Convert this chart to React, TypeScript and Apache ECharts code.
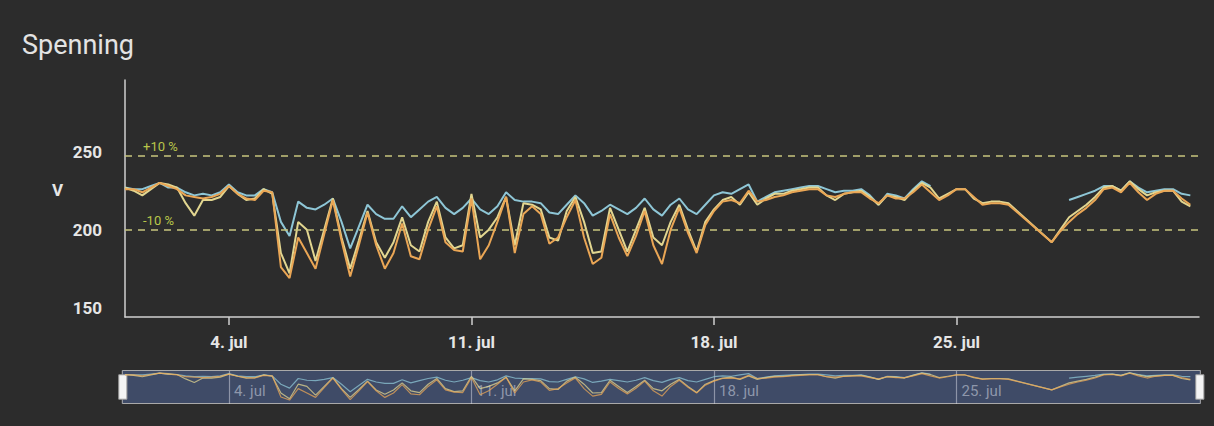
import React, { useEffect, useRef } from "react";
import * as echarts from "echarts";

// Time slots: one value every 6 hours, starting 1 Jul 00:00 (hours since then)
const STEP_HOURS = 6;
const X_MIN_HOURS = 0;
const X_MAX_HOURS = 744; // 1 Aug 00:00
const WEEK_TICKS = [72, 240, 408, 576]; // 4., 11., 18., 25. jul

const TITLE = "Spenning";
const Y_NAME = "V";
const Y_LABELS = [150, 200, 250];
const LIMIT_UPPER = 247.5;
const LIMIT_LOWER = 200;
const LIMIT_UPPER_LABEL = "+10 %";
const LIMIT_LOWER_LABEL = "-10 %";

const N = null;

const L1 = [
  227, 226, 226, 228, 230, 227, 227, 224, 222, 223, 222, 224,
  229, 224, 222, 222, 226, 224, 205, 196, 218, 214, 213, 216,
  220, 205, 188, 202, 216, 210, 207, 207, 215, 208, 213, 218,
  221, 214, 210, 214, 220, 213, 210, 215, 224, 219, 218, 218,
  217, 211, 210, 216, 222, 217, 209, 212, 216, 213, 210, 214,
  220, 213, 209, 216, 220, 213, 210, 216, 222, 224, 223, 226,
  229, 218, 221, 224, 225, 226, 227, 228, 228, 226, 224, 225,
  225, 226, 222, 216, 223, 222, 220, 226, 231, 228, N, N,
  N, N, N, N, N, N, N, N, N, N, N, N,
  N, 219, 221, 223, 225, 228, 228, 225, 231, 227, 224, 225,
  226, 226, 223, 222,
];

const L2 = [
  227, 225, 222, 226, 230, 229, 227, 217, 209, 219, 219, 221,
  228, 223, 219, 220, 226, 223, 185, 172, 205, 200, 180, 200,
  220, 195, 175, 193, 212, 192, 182, 192, 208, 190, 186, 205,
  218, 195, 188, 190, 223, 195, 200, 208, 221, 190, 217, 216,
  213, 195, 193, 212, 221, 205, 185, 186, 214, 200, 186, 200,
  214, 195, 190, 205, 216, 200, 186, 205, 213, 219, 221, 216,
  224, 216, 220, 223, 223, 225, 226, 227, 227, 222, 219, 223,
  224, 225, 221, 216, 222, 221, 219, 225, 230, 227, 220, 223,
  226, 226, 220, 217, 218, 218, 217, N, N, N, N, 192,
  200, 208, 212, 216, 221, 227, 228, 225, 231, 226, 222, 224,
  225, 225, 218, 215,
];

const L3 = [
  226, 226, 224, 227, 230, 228, 226, 222, 221, 220, 221, 223,
  228, 223, 220, 219, 225, 224, 176, 169, 195, 185, 175, 197,
  219, 193, 170, 190, 211, 190, 175, 185, 204, 183, 181, 200,
  215, 192, 187, 186, 220, 181, 190, 205, 221, 185, 210, 215,
  210, 191, 195, 208, 219, 195, 178, 182, 210, 195, 183, 196,
  212, 190, 178, 200, 214, 198, 185, 203, 212, 218, 219, 217,
  225, 218, 219, 221, 222, 224, 225, 226, 226, 222, 221, 223,
  224, 224, 220, 217, 222, 220, 220, 224, 229, 224, 219, 222,
  226, 226, 221, 216, 217, 217, 216, N, N, N, N, 192,
  199, 205, 210, 214, 219, 226, 227, 224, 230, 224, 219, 223,
  225, 225, 220, 216,
];

const SERIES_NAMES = ["L1", "L2", "L3"];
const COLORS = ["#8ec6d6", "#e2d690", "#eaa655"];

const toPairs = (vals: (number | null)[]) =>
  vals.map((v, i) => [i * STEP_HOURS, v]);

const dayLabel = (h: number) => `${Math.round(h / 24) + 1}. jul`;

export default function App() {
  const ref = useRef<HTMLDivElement>(null);

  useEffect(() => {
    document.body.style.margin = "0";
    document.body.style.background = "#2c2c2c";
    if (!ref.current) return;
    const chart = echarts.init(ref.current, null, { renderer: "svg" });
    const data = [L1, L2, L3];

    const mainSeries = data.map((vals, k) => ({
      name: SERIES_NAMES[k],
      type: "line",
      xAxisIndex: 0,
      yAxisIndex: 0,
      data: toPairs(vals),
      showSymbol: false,
      connectNulls: k !== 0,
      lineStyle: { color: COLORS[k], width: 2 },
      itemStyle: { color: COLORS[k] },
      z: 3 + k,
      markLine:
        k === 0
          ? {
              silent: true,
              symbol: "none",
              lineStyle: { color: "#c8c57e", type: [7, 6], width: 1.5 },
              label: {
                position: "insideStartTop",
                color: "#b9c64a",
                fontSize: 13,
                fontFamily: "Roboto",
                distance: [18, 3],
                formatter: (p: any) => p.name,
              },
              data: [
                { name: LIMIT_UPPER_LABEL, yAxis: LIMIT_UPPER },
                { name: LIMIT_LOWER_LABEL, yAxis: LIMIT_LOWER },
              ],
            }
          : undefined,
    }));

    const miniSeries = data.map((vals, k) => ({
      name: SERIES_NAMES[k] + " mini",
      type: "line",
      xAxisIndex: 1,
      yAxisIndex: 1,
      data: toPairs(vals),
      showSymbol: false,
      silent: true,
      connectNulls: k !== 0,
      lineStyle: { color: COLORS[k], width: 1.2, opacity: 0.75 },
      z: 20,
    }));

    chart.setOption({
      animation: false,
      backgroundColor: "#2c2c2c",
      title: {
        text: TITLE,
        left: 22,
        top: 31,
        padding: 0,
        textStyle: {
          color: "#e3e3e3",
          fontSize: 27,
          fontWeight: "normal",
          fontFamily: "Roboto",
        },
      },
      grid: [
        { left: 125, right: 15, top: 80, bottom: 109 },
        { left: 125, right: 15, top: 371, height: 33 },
      ],
      xAxis: [
        {
          type: "value",
          gridIndex: 0,
          min: X_MIN_HOURS,
          max: X_MAX_HOURS,
          axisLine: { lineStyle: { color: "#cfcfcf", width: 1.5 } },
          axisTick: {
            customValues: WEEK_TICKS,
            length: 8,
            lineStyle: { color: "#cfcfcf", width: 1.5 },
          },
          axisLabel: {
            customValues: WEEK_TICKS,
            formatter: dayLabel,
            color: "#e6e6e6",
            fontSize: 17,
            fontWeight: "bold",
            fontFamily: "Roboto",
            margin: 16,
          },
          splitLine: { show: false },
        },
        {
          type: "value",
          gridIndex: 1,
          min: X_MIN_HOURS,
          max: X_MAX_HOURS,
          z: 20,
          axisLine: { show: false },
          axisTick: {
            customValues: WEEK_TICKS,
            inside: true,
            length: 33,
            lineStyle: { color: "rgba(205,210,220,0.55)", width: 1.2 },
          },
          axisLabel: {
            customValues: WEEK_TICKS,
            formatter: dayLabel,
            inside: true,
            align: "left",
            padding: [0, 0, 0, 5],
            margin: 6,
            color: "#8e97ab",
            fontSize: 15,
            fontFamily: "Roboto",
          },
          splitLine: { show: false },
        },
      ],
      yAxis: [
        {
          type: "value",
          gridIndex: 0,
          min: 144,
          max: 296,
          name: Y_NAME,
          nameLocation: "middle",
          nameRotate: 0,
          nameGap: 62,
          nameTextStyle: {
            color: "#e6e6e6",
            fontSize: 17,
            fontWeight: "bold",
            fontFamily: "Roboto",
            verticalAlign: "bottom",
          },
          axisLine: { show: true, lineStyle: { color: "#cfcfcf", width: 1.5 } },
          axisTick: { show: false },
          axisLabel: {
            customValues: Y_LABELS,
            color: "#e6e6e6",
            fontSize: 17,
            fontWeight: "bold",
            fontFamily: "Roboto",
            margin: 23,
          },
          splitLine: { show: false },
        },
        {
          type: "value",
          gridIndex: 1,
          min: 160,
          max: 235,
          show: false,
          splitLine: { show: false },
        },
      ],
      dataZoom: [
        {
          type: "slider",
          xAxisIndex: 0,
          filterMode: "none",
          left: 121,
          right: 14,
          top: 370,
          height: 34,
          showDataShadow: false,
          showDetail: false,
          brushSelect: false,
          moveHandleSize: 0,
          backgroundColor: "rgba(0,0,0,0)",
          fillerColor: "rgba(82,106,162,0.5)",
          borderColor: "#a9a9a9",
          borderRadius: 0,
          handleIcon: "path://M0,0H8V24H0Z",
          handleSize: "72%",
          handleStyle: { color: "#f4f4f4", borderColor: "#9a9a9a", borderWidth: 1 },
          textStyle: { color: "rgba(0,0,0,0)" },
        },
      ],
      series: [...mainSeries, ...miniSeries],
    });

    return () => chart.dispose();
  }, []);

  return <div ref={ref} style={{ width: 1214, height: 426 }} />;
}
